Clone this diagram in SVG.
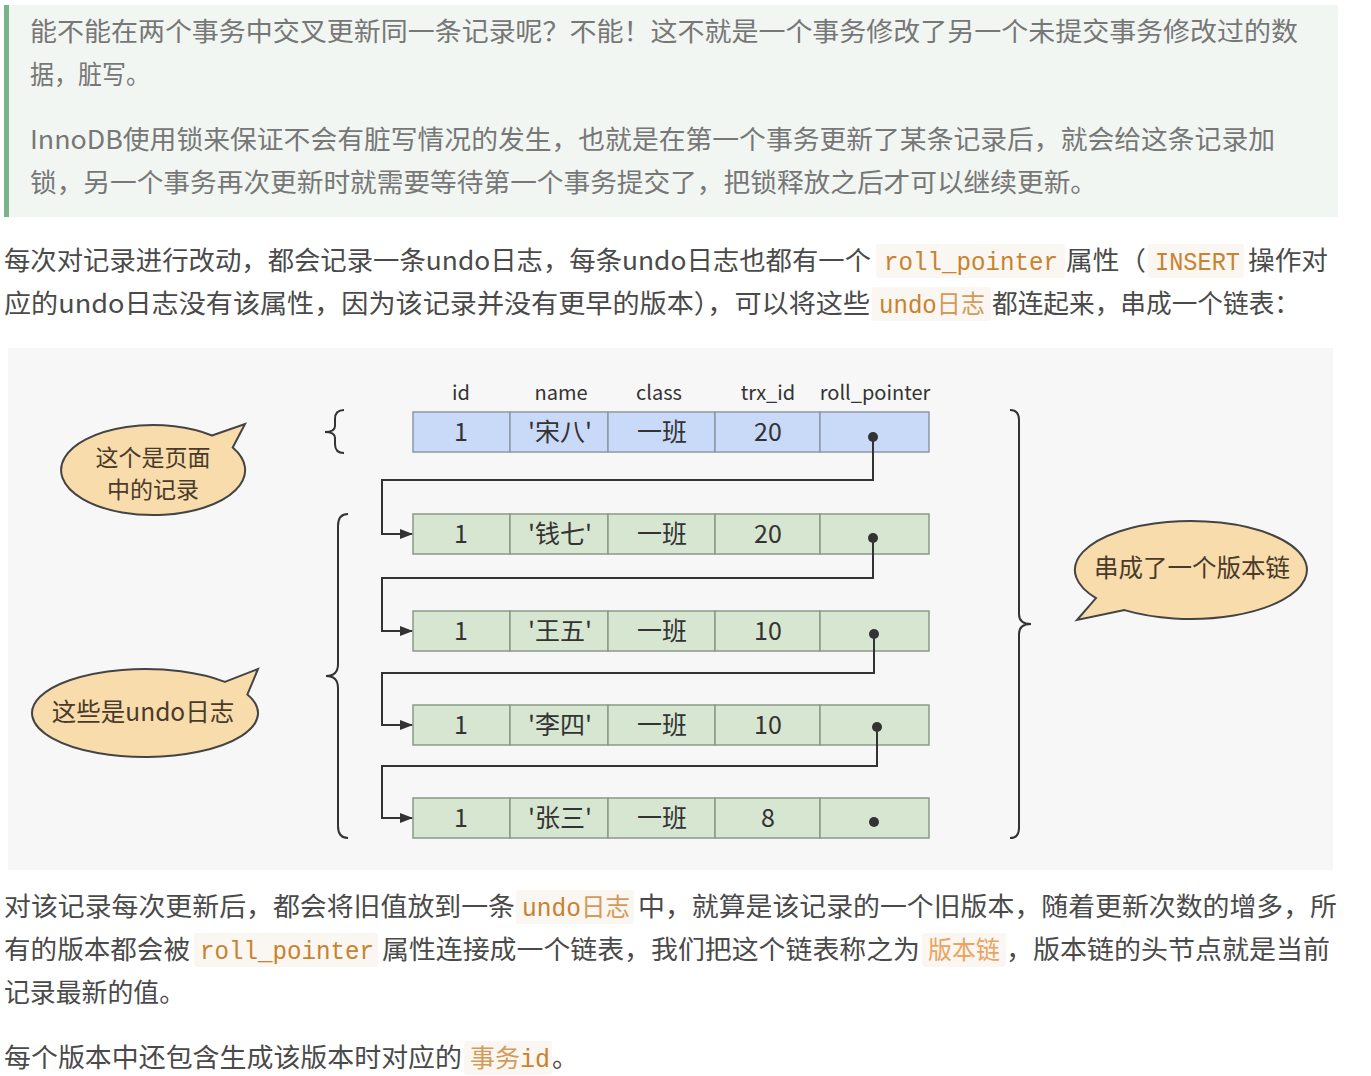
<svg xmlns="http://www.w3.org/2000/svg" width="1371" height="1076" viewBox="0 0 1371 1076">
<style>
.q{font-family:"Noto Sans CJK SC","Noto Sans",sans-serif;font-size:26px;fill:#777}
.p{font-family:"Noto Sans CJK SC","Noto Sans",sans-serif;font-size:26px;fill:#4a4a4a}
.c{font-family:"Liberation Mono","DejaVu Sans Mono","Noto Sans CJK SC",monospace;font-size:25px;fill:#c9822f}
.cz{font-family:"Noto Sans CJK SC",sans-serif;font-size:25px;fill:#d49a5a}
.cb{fill:#faf6f1}
.h{font-family:"Noto Sans CJK SC","Noto Sans",sans-serif;font-size:20px;fill:#333;text-anchor:middle}
.t{font-family:"Noto Sans CJK SC","Noto Sans",sans-serif;font-size:25px;fill:#333;text-anchor:middle}
.b{font-family:"Noto Sans CJK SC","Noto Sans",sans-serif;font-size:24.5px;fill:#4a3a2a;text-anchor:middle}
.b2{font-family:"Noto Sans CJK SC","Noto Sans",sans-serif;font-size:23px;fill:#4a3a2a;text-anchor:middle}
.blue rect{fill:#c8daf7;stroke:#8d98a8;stroke-width:1.5}
.green rect{fill:#d6e6d1;stroke:#8a9a88;stroke-width:1.5}
.conn{fill:none;stroke:#333;stroke-width:2}
.brace{fill:none;stroke:#333;stroke-width:2}
.bub{fill:#f8dcab;stroke:#444;stroke-width:2}
</style>
<defs>
<marker id="arr" markerWidth="13" markerHeight="12" refX="12" refY="6" orient="auto" markerUnits="userSpaceOnUse">
<path d="M0,1 L13,6 L0,11 Z" fill="#333"/>
</marker>
</defs>
<rect width="1371" height="1076" fill="#ffffff"/>

<g id="blockquote">
<rect x="4" y="5" width="1334" height="212" fill="#f1f6f2"/>
<rect x="4" y="5" width="5" height="212" fill="#7ab38a"/>
<text class="q" x="30" y="41" textLength="1268" lengthAdjust="spacingAndGlyphs">能不能在两个事务中交叉更新同一条记录呢？不能！这不就是一个事务修改了另一个未提交事务修改过的数</text>
<text class="q" x="30" y="84" textLength="120" lengthAdjust="spacingAndGlyphs">据，脏写。</text>
<text class="q" x="30" y="149" textLength="1245" lengthAdjust="spacingAndGlyphs">InnoDB使用锁来保证不会有脏写情况的发生，也就是在第一个事务更新了某条记录后，就会给这条记录加</text>
<text class="q" x="30" y="192" textLength="1067" lengthAdjust="spacingAndGlyphs">锁，另一个事务再次更新时就需要等待第一个事务提交了，把锁释放之后才可以继续更新。</text>
</g>

<g id="para1">
<rect class="cb" x="876" y="244" width="189" height="34" rx="3"/>
<rect class="cb" x="1148" y="244" width="96" height="34" rx="3"/>
<rect class="cb" x="872" y="287" width="119" height="34" rx="3"/>
<text class="p" x="4" y="270" textLength="867" lengthAdjust="spacingAndGlyphs">每次对记录进行改动，都会记录一条undo日志，每条undo日志也都有一个</text>
<text class="c" x="884" y="270" textLength="174" lengthAdjust="spacingAndGlyphs">roll_pointer</text>
<text class="p" x="1066" y="270" textLength="80" lengthAdjust="spacingAndGlyphs">属性（</text>
<text class="c" x="1155" y="270" textLength="85" lengthAdjust="spacingAndGlyphs">INSERT</text>
<text class="p" x="1248" y="270" textLength="80" lengthAdjust="spacingAndGlyphs">操作对</text>
<text class="p" x="4" y="313" textLength="866" lengthAdjust="spacingAndGlyphs">应的undo日志没有该属性，因为该记录并没有更早的版本），可以将这些</text>
<text class="c" x="879" y="313" textLength="106" lengthAdjust="spacingAndGlyphs">undo<tspan class="cz">日志</tspan></text>
<text class="p" x="992" y="313" textLength="308" lengthAdjust="spacingAndGlyphs">都连起来，串成一个链表：</text>
</g>

<rect x="8" y="348" width="1325" height="522" fill="#f7f7f7"/>

<g id="header">
<text class="h" x="461" y="400">id</text>
<text class="h" x="561" y="400">name</text>
<text class="h" x="659" y="400">class</text>
<text class="h" x="768" y="400">trx_id</text>
<text class="h" x="875" y="400">roll_pointer</text>
</g>

<g id="row1" class="blue">
<rect x="413" y="412" width="97" height="40"/><rect x="510" y="412" width="98" height="40"/><rect x="608" y="412" width="107" height="40"/><rect x="715" y="412" width="105" height="40"/><rect x="820" y="412" width="109" height="40"/>
<text class="t" x="461" y="441">1</text><text class="t" x="560" y="441">'宋八'</text><text class="t" x="662" y="441">一班</text><text class="t" x="768" y="441">20</text>
<circle cx="873" cy="437" r="5" fill="#333"/>
</g>

<g id="row2" class="green">
<rect x="413" y="514" width="97" height="40"/><rect x="510" y="514" width="98" height="40"/><rect x="608" y="514" width="107" height="40"/><rect x="715" y="514" width="105" height="40"/><rect x="820" y="514" width="109" height="40"/>
<text class="t" x="461" y="543">1</text><text class="t" x="560" y="543">'钱七'</text><text class="t" x="662" y="543">一班</text><text class="t" x="768" y="543">20</text>
<circle cx="873" cy="538" r="5" fill="#333"/>
</g>

<g id="row3" class="green">
<rect x="413" y="611" width="97" height="40"/><rect x="510" y="611" width="98" height="40"/><rect x="608" y="611" width="107" height="40"/><rect x="715" y="611" width="105" height="40"/><rect x="820" y="611" width="109" height="40"/>
<text class="t" x="461" y="640">1</text><text class="t" x="560" y="640">'王五'</text><text class="t" x="662" y="640">一班</text><text class="t" x="768" y="640">10</text>
<circle cx="874" cy="634" r="5" fill="#333"/>
</g>

<g id="row4" class="green">
<rect x="413" y="705" width="97" height="40"/><rect x="510" y="705" width="98" height="40"/><rect x="608" y="705" width="107" height="40"/><rect x="715" y="705" width="105" height="40"/><rect x="820" y="705" width="109" height="40"/>
<text class="t" x="461" y="734">1</text><text class="t" x="560" y="734">'李四'</text><text class="t" x="662" y="734">一班</text><text class="t" x="768" y="734">10</text>
<circle cx="877" cy="727" r="5" fill="#333"/>
</g>

<g id="row5" class="green">
<rect x="413" y="798" width="97" height="40"/><rect x="510" y="798" width="98" height="40"/><rect x="608" y="798" width="107" height="40"/><rect x="715" y="798" width="105" height="40"/><rect x="820" y="798" width="109" height="40"/>
<text class="t" x="461" y="827">1</text><text class="t" x="560" y="827">'张三'</text><text class="t" x="662" y="827">一班</text><text class="t" x="768" y="827">8</text>
<circle cx="874" cy="822" r="5" fill="#333"/>
</g>

<g id="connectors">
<path class="conn" d="M873,437 V480 H382 V534 H412" marker-end="url(#arr)"/>
<path class="conn" d="M873,538 V578 H382 V631 H412" marker-end="url(#arr)"/>
<path class="conn" d="M874,634 V673 H382 V725 H412" marker-end="url(#arr)"/>
<path class="conn" d="M877,727 V766 H382 V818 H412" marker-end="url(#arr)"/>
</g>

<g id="braces">
<path class="brace" d="M344,410 Q335,410 335,419 L335,426 Q335,432 325,432 Q335,432 335,438 L335,444 Q335,453 344,453"/>
<path class="brace" d="M348,514 Q338,514 338,526 L338,664 Q338,676 326,676 Q338,676 338,688 L338,826 Q338,838 348,838"/>
<path class="brace" d="M1010,410 Q1019,410 1019,420 L1019,614 Q1019,624 1031,624 Q1019,624 1019,634 L1019,828 Q1019,838 1010,838"/>
</g>

<g id="bubble-page">
<path class="bub" d="M212,435.5 L245,424 L232.7,447.5 A92,45 0 1,1 212,435.5 Z"/>
<text class="b2" x="153" y="466">这个是页面</text>
<text class="b2" x="153" y="498">中的记录</text>
</g>

<g id="bubble-undo">
<path class="bub" d="M224.9,681.9 L258,669 L247.4,694.4 A113,44 0 1,1 224.9,681.9 Z"/>
<text class="b" x="143" y="721">这些是undo日志</text>
</g>

<g id="bubble-chain">
<path class="bub" d="M1124.5,610.1 L1077,620 L1096,598.1 A116,49 0 1,1 1124.5,610.1 Z"/>
<text class="b" x="1192" y="577">串成了一个版本链</text>
</g>

<g id="para2">
<rect class="cb" x="516" y="890" width="118" height="34" rx="3"/>
<rect class="cb" x="194" y="933" width="184" height="34" rx="3"/>
<rect class="cb" x="922" y="933" width="84" height="34" rx="3"/>
<rect class="cb" x="464" y="1041" width="88" height="34" rx="3"/>
<text class="p" x="4" y="916" textLength="511" lengthAdjust="spacingAndGlyphs">对该记录每次更新后，都会将旧值放到一条</text>
<text class="c" x="522" y="916" textLength="108" lengthAdjust="spacingAndGlyphs">undo<tspan class="cz">日志</tspan></text>
<text class="p" x="638" y="916" textLength="699" lengthAdjust="spacingAndGlyphs">中，就算是该记录的一个旧版本，随着更新次数的增多，所</text>
<text class="p" x="4" y="959" textLength="186" lengthAdjust="spacingAndGlyphs">有的版本都会被</text>
<text class="c" x="200" y="959" textLength="174" lengthAdjust="spacingAndGlyphs">roll_pointer</text>
<text class="p" x="382" y="959" textLength="538" lengthAdjust="spacingAndGlyphs">属性连接成一个链表，我们把这个链表称之为</text>
<text class="cz" x="928" y="959" textLength="72" lengthAdjust="spacingAndGlyphs" style="fill:#eba35f">版本链</text>
<text class="p" x="1006" y="959" textLength="324" lengthAdjust="spacingAndGlyphs">，版本链的头节点就是当前</text>
<text class="p" x="4" y="1002" textLength="181" lengthAdjust="spacingAndGlyphs">记录最新的值。</text>
<text class="p" x="4" y="1067" textLength="458" lengthAdjust="spacingAndGlyphs">每个版本中还包含生成该版本时对应的</text>
<text class="cz" x="470" y="1067" style="fill:#d49a5a">事务<tspan class="c">id</tspan></text>
<text class="p" x="552" y="1067">。</text>
</g>
</svg>
